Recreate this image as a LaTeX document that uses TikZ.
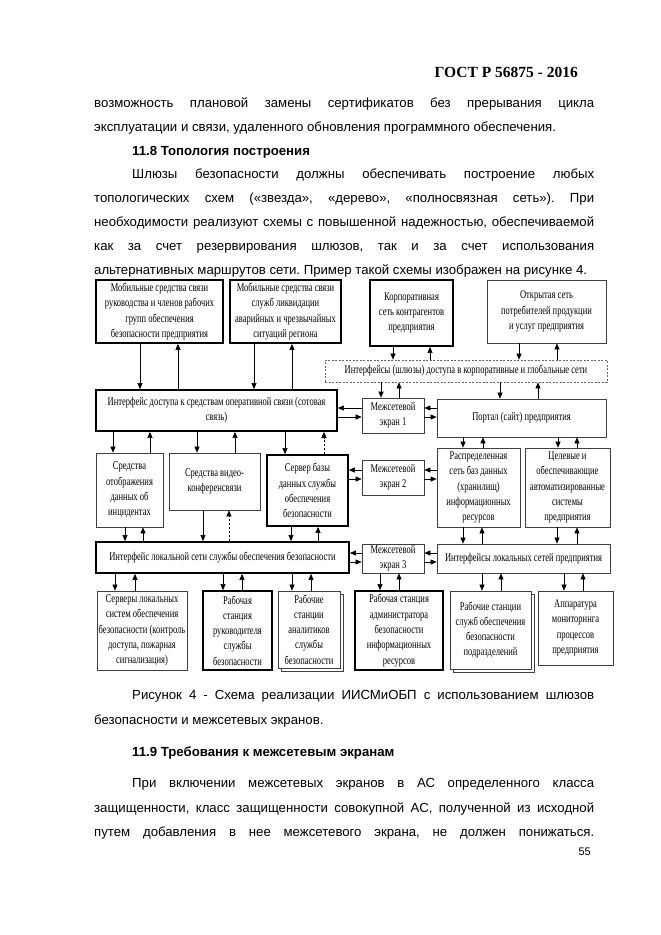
\documentclass[tikz,border=0pt]{standalone}
\usepackage{fontspec}
\setmainfont{Liberation Sans}
\newfontfamily\diagfont[FakeStretch=0.72]{Liberation Serif}
\newfontfamily\headfont{Liberation Serif}
\usetikzlibrary{arrows.meta,shadows}
\frenchspacing
\tolerance=10000
\tikzset{
	blkbox/.style={rectangle, draw=black!75, line width=0.7pt, fill=white, inner sep=1pt,
		align=center, font=\diagfont\fontsize{11.8}{15.3}\selectfont},
	boldbox/.style={blkbox, draw=black, line width=1.8pt},
	gatebox/.style={blkbox, draw=black!60, dash pattern=on 2pt off 1.5pt},
	stackbox/.style={blkbox, copy shadow={shadow xshift=3pt, shadow yshift=-3pt, draw=black!75, fill=white, line width=0.7pt}},
	linkarr/.style={-{Triangle[length=6pt,width=5pt]}, line width=0.6pt},
	dotarr/.style={linkarr, dash pattern=on 2pt off 2pt},
	bodytext/.style={anchor=base west, text width=500pt, align=justify, inner sep=0pt,
		font=\fontsize{13.2}{24}\selectfont}
}
\begin{document}
\begin{tikzpicture}[x=1pt, y=-1pt]
	\path[fill=white] (0,0) rectangle (661,935);
	% page text
	\node[anchor=base east, inner sep=0pt, font=\headfont\bfseries\fontsize{15.5}{18}\selectfont] (gost) at (578,77) {ГОСТ Р 56875 - 2016};
	\node[bodytext] (par1) at (94,107) {возможность плановой замены сертификатов без прерывания цикла\linebreak эксплуатации и связи, удаленного обновления программного обеспечения.};
	\node[bodytext, font=\bfseries\fontsize{13.2}{24}\selectfont] (sec1) at (132,155) {11.8 Топология построения};
	\node[bodytext] (par2) at (94,178.5) {\hspace*{38pt}Шлюзы безопасности должны обеспечивать построение любых\linebreak топологических схем («звезда», «дерево», «полносвязная сеть»). При\linebreak необходимости реализуют схемы с повышенной надежностью, обеспечиваемой\linebreak как за счет резервирования шлюзов, так и за счет использования\linebreak альтернативных маршрутов сети. Пример такой схемы изображен на рисунке~4.};

	% diagram boxes
	\node[boldbox, minimum width=127pt, minimum height=63pt] (A1) at (159.5,311.5) {Мобильные средства связи\\руководства и членов рабочих\\групп обеспечения\\безопасности предприятия};
	\node[boldbox, minimum width=111pt, minimum height=63pt] (A2) at (285.5,311.5) {Мобильные средства связи\\служб ликвидации\\аварийных и чрезвычайных\\ситуаций региона};
	\node[boldbox, minimum width=83pt, minimum height=66pt] (A3) at (411.5,313) {Корпоративная\\сеть контрагентов\\предприятия};
	\node[blkbox, minimum width=119pt, minimum height=63pt] (A4) at (546.5,311.5) {Открытая сеть\\потребителей продукции\\и услуг предприятия};
	\node[gatebox, minimum width=282pt, minimum height=22pt] (B) at (466,371) {Интерфейсы (шлюзы) доступа в корпоративные и глобальные сети};
	\node[boldbox, minimum width=241pt, minimum height=41pt] (C) at (216.5,410.5) {Интерфейс доступа к средствам оперативной связи (сотовая\\связь)};
	\node[blkbox, minimum width=62pt, minimum height=35pt] (FW1) at (393,415.5) {Межсетевой\\экран 1};
	\node[blkbox, minimum width=169pt, minimum height=38pt] (P) at (521.5,418) {Портал (сайт) предприятия};
	\node[blkbox, minimum width=67pt, minimum height=74pt] (D1) at (129.5,490) {Средства\\отображения\\данных об\\инцидентах};
	\node[blkbox, minimum width=91pt, minimum height=57pt] (D2) at (214.5,481.5) {Средства видео-\\конференсвязи};
	\node[boldbox, minimum width=81pt, minimum height=71pt] (D3) at (307.5,490.5) {Сервер базы\\данных службы\\обеспечения\\безопасности};
	\node[blkbox, minimum width=62pt, minimum height=35pt] (FW2) at (393,477.5) {Межсетевой\\экран 2};
	\node[blkbox, minimum width=83pt, minimum height=79pt] (D4) at (478.5,487.5) {Распределенная\\сеть баз данных\\(хранилищ)\\информационных\\ресурсов};
	\node[blkbox, minimum width=85pt, minimum height=79pt] (D5) at (567.5,487.5) {Целевые и\\обеспечивающие\\автоматизированные\\системы\\предприятия};
	\node[boldbox, minimum width=253pt, minimum height=31pt] (E) at (222.5,557.5) {Интерфейс локальной сети службы обеспечения безопасности};
	\node[blkbox, minimum width=62pt, minimum height=29pt] (FW3) at (393,558.5) {Межсетевой\\экран 3};
	\node[blkbox, minimum width=173pt, minimum height=29pt] (F) at (523.5,558.5) {Интерфейсы локальных сетей предприятия};
	\node[blkbox, minimum width=90pt, minimum height=79pt] (G1) at (142,630.5) {Серверы локальных\\систем обеспечения\\безопасности (контроль\\доступа, пожарная\\сигнализация)};
	\node[boldbox, minimum width=69pt, minimum height=79pt] (G2) at (237.5,630.5) {Рабочая\\станция\\руководителя\\службы\\безопасности};
	\node[stackbox, minimum width=62pt, minimum height=77pt] (G3) at (309,629.5) {Рабочие\\станции\\аналитиков\\службы\\безопасности};
	\node[boldbox, minimum width=88pt, minimum height=79pt] (G4) at (399,630.5) {Рабочая станция\\администратора\\безопасности\\информационных\\ресурсов};
	\node[stackbox, minimum width=81pt, minimum height=78pt] (G5) at (490.5,630) {Рабочие станции\\служб обеспечения\\безопасности\\подразделений};
	\node[blkbox, minimum width=75pt, minimum height=74pt] (G6) at (575.5,628) {Аппаратура\\мониторинга\\процессов\\предприятия};

	% vertical links: down arrow, then up arrow
	\foreach \u/\l/\xd/\xu in {A1/C/140/178, A2/C/254/292, A3/B/393/430, A4/B/519/557,
		B/FW1/381/399, B/P/500/538, C/D1/113/150, C/D2/197/235, P/D4/463/483, P/D5/558/577,
		D1/E/125/143, D3/E/291/318, D4/F/463/482, D5/F/557/577,
		E/G1/115/135, E/G2/223/242, E/G3/292/311, FW3/G4/380/399, F/G5/482/501, F/G6/564/583}
	{
		\draw[linkarr] (\u.south -| \xd,0) -- (\l.north -| \xd,0);
		\draw[linkarr] (\l.north -| \xu,0) -- (\u.south -| \xu,0);
	}
	\draw[linkarr] (C.south -| 285,0) -- (D3.north -| 285,0);
	\draw[dotarr] (D3.north -| 324,0) -- (C.south -| 324,0);
	\draw[linkarr] (D2.south -| 203,0) -- (E.north -| 203,0);
	\draw[dotarr] (E.north -| 229,0) -- (D2.south -| 229,0);

	% horizontal links through the firewalls
	\foreach \l/\r/\ya/\yb in {C/FW1/408/417, FW1/P/408/417, D3/FW2/470/479,
		FW2/D4/470/479, E/FW3/553/562, FW3/F/553/562}
	{
		\draw[linkarr] (\r.west |- 0,\ya) -- (\l.east |- 0,\ya);
		\draw[linkarr] (\l.east |- 0,\yb) -- (\r.west |- 0,\yb);
	}

	% caption and following section
	\node[bodytext, font=\fontsize{13.2}{25}\selectfont] (cap) at (94,699.5) {\hspace*{38pt}Рисунок 4 - Схема реализации ИИСМиОБП с использованием шлюзов\linebreak безопасности и межсетевых экранов.};
	\node[bodytext, font=\bfseries\fontsize{13.2}{24}\selectfont] (sec2) at (132,756.5) {11.9 Требования к межсетевым экранам};
	\node[bodytext, font=\fontsize{13.2}{24.5}\selectfont] (par3) at (94,787.5) {\hspace*{38pt}При включении межсетевых экранов в АС определенного класса\linebreak защищенности, класс защищенности совокупной АС, полученной из исходной\linebreak путем добавления в нее межсетевого экрана, не должен понижаться.\linebreak\mbox{}};
	\node[anchor=base east, inner sep=0pt, font=\fontsize{11}{13}\selectfont] (pnum) at (591,855) {55};
\end{tikzpicture}
\end{document}
